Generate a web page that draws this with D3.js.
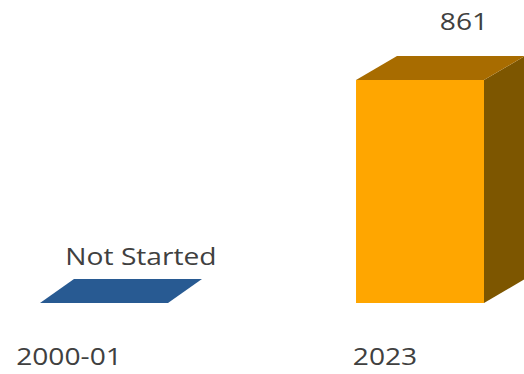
<!DOCTYPE html>
<html>
<head>
<meta charset="utf-8">
<script src="https://cdn.jsdelivr.net/npm/d3@7/dist/d3.min.js"></script>
<style>
  html, body { margin: 0; padding: 0; background: #fff; }
  svg { display: block; }
</style>
</head>
<body>
<svg id="chart" width="524" height="374"></svg>
<script>
// Chart data
const categories = ["2000-01", "2023"];
const values = [0, 861];
const valueLabels = ["Not Started", "861"];

const W = 524, H = 374;
const svg = d3.select("#chart");

// Front faces of the boxes
const x = d3.scaleBand().domain(categories).range([8.4, 515.6]).paddingInner(0.595).paddingOuter(0.1);
const y = d3.scaleLinear().domain([0, 1000]).range([303, 44]);

// perspective: depth offset grows slightly toward the right
const depthX = d3.scaleLinear().domain([104, 420]).range([34, 41]);
const depthY = 24;

const faceColors = [
  { front: "#1f4e87", top: "#285a92", side: "#173c69" },
  { front: "#ffa600", top: "#a86c00", side: "#7d5600" }
];

const textStyle = sel => sel
  .attr("text-anchor", "middle")
  .attr("font-family", "Open Sans, sans-serif")
  .attr("font-size", 24.5)
  .attr("fill", "#404040");

const bars = svg.append("g");
categories.forEach((c, i) => {
  const x0 = x(c), x1 = x0 + x.bandwidth();
  const cx = x0 + x.bandwidth() / 2;
  const dx = depthX(cx), dy = depthY;
  const yTop = y(values[i]), yBase = y(0);
  const col = faceColors[i];
  const g = bars.append("g");
  // side face
  if (yBase > yTop) {
    g.append("path")
      .attr("d", `M${x1},${yTop}L${x1 + dx},${yTop - dy}L${x1 + dx},${yBase - dy}L${x1},${yBase}Z`)
      .attr("fill", col.side);
  }
  // top face
  g.append("path")
    .attr("d", `M${x0},${yTop}L${x0 + dx},${yTop - dy}L${x1 + dx},${yTop - dy}L${x1},${yTop}Z`)
    .attr("fill", col.top);
  // front face
  if (yBase > yTop) {
    g.append("rect")
      .attr("x", x0).attr("y", yTop)
      .attr("width", x.bandwidth()).attr("height", yBase - yTop)
      .attr("fill", col.front);
  }
  // value label, centred over the back edge
  const gap = values[i] > 0 ? 26 : 14;
  svg.append("text")
    .attr("transform", `translate(${cx + dx + 3},${yTop - dy - gap}) scale(1.15,1)`)
    .call(textStyle)
    .text(valueLabels[i]);
});

// Category axis labels
categories.forEach((c, i) => {
  const cx = x(c) + x.bandwidth() / 2;
  svg.append("text")
    .attr("transform", `translate(${cx - 35},${365}) scale(1.15,1)`)
    .call(textStyle)
    .text(c);
});
</script>
</body>
</html>
